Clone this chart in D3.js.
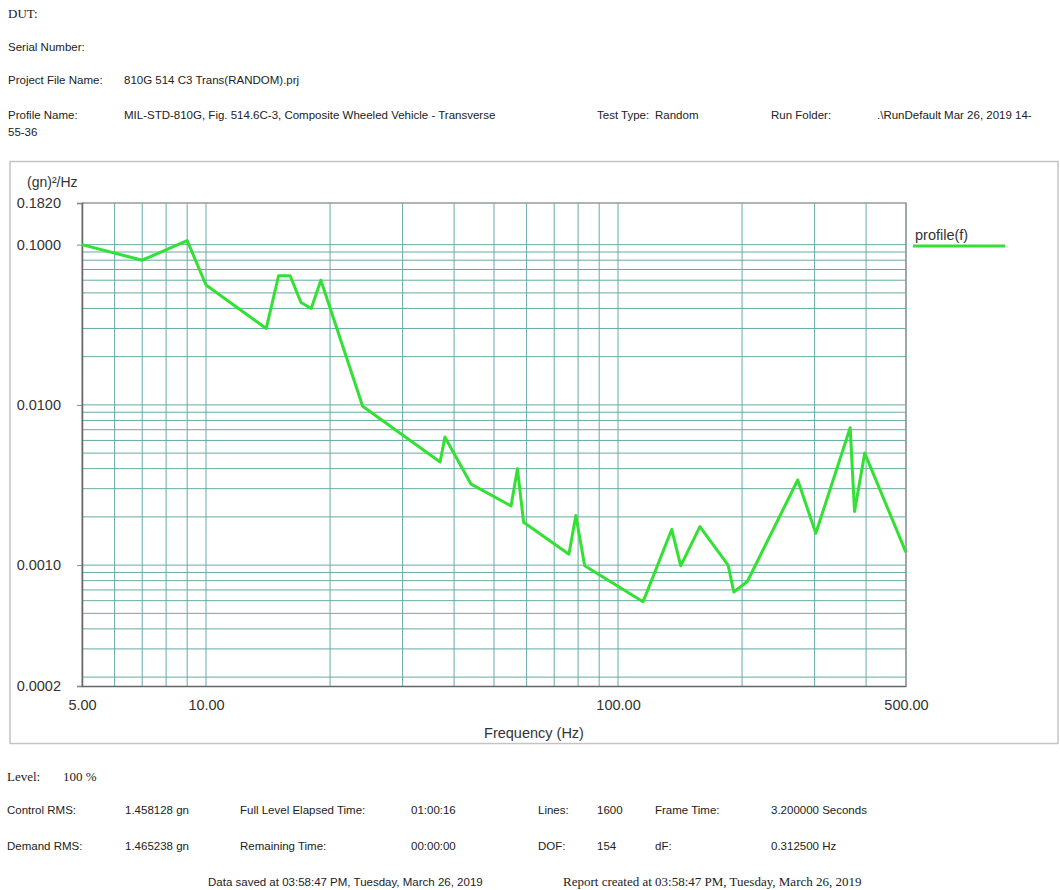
<!DOCTYPE html>
<html>
<head>
<meta charset="utf-8">
<script src="https://cdn.jsdelivr.net/npm/d3@7"></script>
<style>
  body { margin: 0; background: #fff; }
  svg { display: block; }
  .hdr { font-family: "Liberation Sans", Arial, sans-serif; font-size: 11.5px; fill: #222; }
  .ser { font-family: "Liberation Serif", "Times New Roman", serif; font-size: 13px; fill: #222; }
  .ax text { font-family: "Liberation Sans", Arial, sans-serif; font-size: 14.5px; fill: #333; }
</style>
</head>
<body>
<svg id="chart" width="1060" height="890"></svg>
<script>
// ---- data ----
const freqs = [5, 7, 9, 10, 14, 15, 16, 17, 18, 19, 24, 37, 38, 44, 55, 57, 59, 76, 79, 83,
               115, 135, 142, 158, 185, 191, 206, 273, 302, 366, 375, 397, 500];
const psd   = [0.1, 0.08, 0.106, 0.056, 0.030, 0.064, 0.064, 0.0436, 0.040, 0.060, 0.0098,
               0.0044, 0.0063, 0.0032, 0.00234, 0.0040, 0.00185, 0.00117, 0.00204, 0.00099,
               0.00059, 0.00167, 0.00099, 0.00174, 0.00100, 0.00068, 0.00079, 0.0034, 0.00158,
               0.0072, 0.00216, 0.0050, 0.0012];
const seriesName = "profile(f)";
const xDomain = [5, 500];
const yDomain = [0.000176, 0.182];
const xTickVals = [5, 10, 100, 500];
const yTickVals = [0.182, 0.1, 0.01, 0.001, 0.000176];
const yTickLabels = ["0.1820", "0.1000", "0.0100", "0.0010", "0.0002"];
const yUnit = "(gn)\u00B2/Hz";
const xTitle = "Frequency (Hz)";

const headerLines = [
  { t: "DUT:", x: 8, y: 18, cls: "ser" },
  { t: "Serial Number:", x: 8, y: 51, cls: "hdr" },
  { t: "Project File Name:", x: 8, y: 84, cls: "hdr" },
  { t: "810G 514 C3 Trans(RANDOM).prj", x: 124, y: 84, cls: "hdr" },
  { t: "Profile Name:", x: 8, y: 119, cls: "hdr" },
  { t: "MIL-STD-810G, Fig. 514.6C-3, Composite Wheeled Vehicle - Transverse", x: 124, y: 119, cls: "hdr" },
  { t: "Test Type:", x: 597, y: 119, cls: "hdr" },
  { t: "Random", x: 655, y: 119, cls: "hdr" },
  { t: "Run Folder:", x: 771, y: 119, cls: "hdr" },
  { t: ".\\RunDefault Mar 26, 2019 14-", x: 877, y: 119, cls: "hdr" },
  { t: "55-36", x: 8, y: 136, cls: "hdr" }
];
const footerLines = [
  { t: "Level:", x: 7, y: 781, cls: "ser" },
  { t: "100 %", x: 63, y: 781, cls: "ser" },
  { t: "Control RMS:", x: 7, y: 814, cls: "hdr" },
  { t: "1.458128 gn", x: 125, y: 814, cls: "hdr" },
  { t: "Full Level Elapsed Time:", x: 240, y: 814, cls: "hdr" },
  { t: "01:00:16", x: 411, y: 814, cls: "hdr" },
  { t: "Lines:", x: 538, y: 814, cls: "hdr" },
  { t: "1600", x: 597, y: 814, cls: "hdr" },
  { t: "Frame Time:", x: 655, y: 814, cls: "hdr" },
  { t: "3.200000 Seconds", x: 771, y: 814, cls: "hdr" },
  { t: "Demand RMS:", x: 7, y: 850, cls: "hdr" },
  { t: "1.465238 gn", x: 125, y: 850, cls: "hdr" },
  { t: "Remaining Time:", x: 240, y: 850, cls: "hdr" },
  { t: "00:00:00", x: 411, y: 850, cls: "hdr" },
  { t: "DOF:", x: 538, y: 850, cls: "hdr" },
  { t: "154", x: 597, y: 850, cls: "hdr" },
  { t: "dF:", x: 655, y: 850, cls: "hdr" },
  { t: "0.312500 Hz", x: 771, y: 850, cls: "hdr" },
  { t: "Data saved at 03:58:47 PM, Tuesday, March 26, 2019", x: 208, y: 886, cls: "hdr" },
  { t: "Report created at 03:58:47 PM, Tuesday, March 26, 2019", x: 563, y: 886, cls: "ser" }
];

// ---- drawing ----
const svg = d3.select("#chart");
const L = 82, R = 906, T = 203, B = 686;

svg.selectAll("text.info").data(headerLines.concat(footerLines)).enter()
  .append("text").attr("class", d => "info " + d.cls)
  .attr("x", d => d.x).attr("y", d => d.y).text(d => d.t);

// outer frame
svg.append("rect").attr("x", 10).attr("y", 161.5).attr("width", 1048).attr("height", 582)
  .attr("fill", "none").attr("stroke", "#c4c4c4").attr("stroke-width", 1.5);

const x = d3.scaleLog().domain(xDomain).range([L, R]);
const y = d3.scaleLog().domain(yDomain).range([B, T]);

// grid
const gridColor = "#66aaa4";
const g = svg.append("g");
g.selectAll("line.vx").data(x.ticks()).enter().append("line")
  .attr("x1", d => x(d)).attr("x2", d => x(d)).attr("y1", T).attr("y2", B)
  .attr("stroke", gridColor).attr("stroke-width", 1);
g.selectAll("line.hy").data(y.ticks()).enter().append("line")
  .attr("y1", d => y(d)).attr("y2", d => y(d)).attr("x1", L).attr("x2", R)
  .attr("stroke", gridColor).attr("stroke-width", 1);

// plot border (top/right)
svg.append("path").attr("d", `M${L},${T}H${R}V${B}`).attr("fill", "none")
  .attr("stroke", "#999").attr("stroke-width", 1.5);

// axes
const yAxis = d3.axisLeft(y).tickValues(yTickVals).tickSize(5).tickPadding(16)
  .tickFormat((d, i) => yTickLabels[i]);
const ya = svg.append("g").attr("class", "ax").attr("transform", `translate(${L},0)`).call(yAxis);
ya.select(".domain").attr("stroke", "#666").attr("stroke-width", 1.5);
ya.selectAll(".tick line").attr("stroke", "#888");

const xAxis = d3.axisBottom(x).tickValues(xTickVals).tickSize(0).tickPadding(14)
  .tickFormat(d3.format(".2f"));
const xa = svg.append("g").attr("class", "ax").attr("transform", `translate(0,${B})`).call(xAxis);
xa.select(".domain").attr("stroke", "#666").attr("stroke-width", 1.5);

// axis titles
svg.append("text").attr("x", 27).attr("y", 187)
  .style("font-family", "Liberation Sans, Arial, sans-serif").style("font-size", "14px").attr("fill", "#333")
  .text(yUnit);
svg.append("text").attr("x", 534).attr("y", 738).attr("text-anchor", "middle")
  .style("font-family", "Liberation Sans, Arial, sans-serif").style("font-size", "14.5px").attr("fill", "#333")
  .text(xTitle);

// series
const pts = freqs.map((f, i) => [f, psd[i]]);
svg.append("path").datum(pts)
  .attr("d", d3.line().x(d => x(d[0])).y(d => y(d[1])))
  .attr("fill", "none").attr("stroke", "#33e033").attr("stroke-width", 3)
  .attr("stroke-linejoin", "round");

// legend
svg.append("text").attr("x", 915).attr("y", 240)
  .style("font-family", "Liberation Sans, Arial, sans-serif").style("font-size", "14.5px").attr("fill", "#333")
  .text(seriesName);
svg.append("line").attr("x1", 913).attr("x2", 1005).attr("y1", 246).attr("y2", 246)
  .attr("stroke", "#33e033").attr("stroke-width", 3);
</script>
</body>
</html>
